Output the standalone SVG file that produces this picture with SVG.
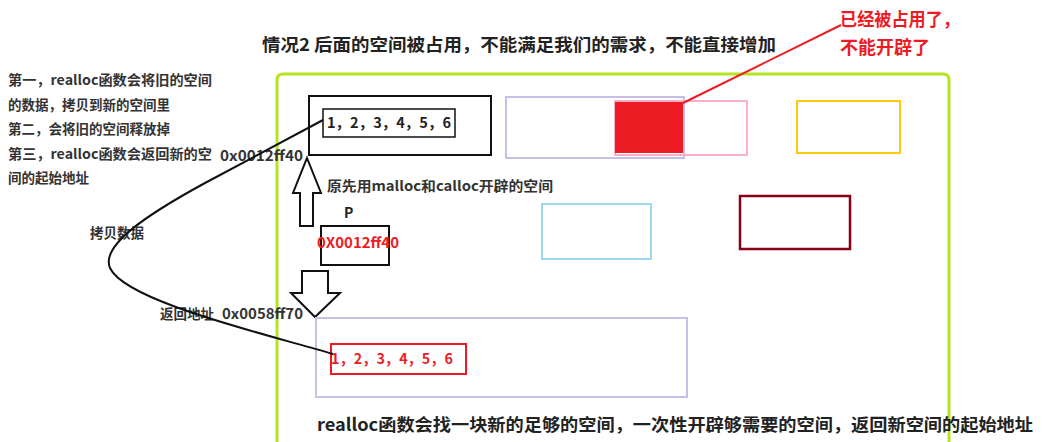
<svg xmlns="http://www.w3.org/2000/svg" width="1046" height="442" viewBox="0 0 1046 442">
  <style>
    text { font-family: "Noto Sans CJK SC", "Microsoft YaHei", sans-serif; font-weight: bold; }
    .t { fill: #333; font-size: 13.5px; }
    .title { fill: #222; font-size: 17.5px; }
    .red { fill: #ed1c24; }
    .box { fill: none; }
    .blk { stroke: #111; stroke-width: 2; }
    .arrow { fill: #fff; stroke: #111; stroke-width: 2; stroke-linejoin: miter; }
    .conn { fill: none; stroke: #111; stroke-width: 2; }
  </style>

  <rect width="1046" height="442" fill="#fff"/>

  <g id="title">
    <text class="title" x="262" y="51" textLength="514" lengthAdjust="spacingAndGlyphs">情况2 后面的空间被占用，不能满足我们的需求，不能直接增加</text>
  </g>

  <g id="note-occupied">
    <text class="red" x="840" y="26" font-size="18" textLength="120" lengthAdjust="spacingAndGlyphs">已经被占用了，</text>
    <text class="red" x="840" y="54" font-size="18">不能开辟了</text>
  </g>

  <g id="left-notes">
    <text class="t" x="8" y="85" textLength="204" lengthAdjust="spacingAndGlyphs">第一，realloc函数会将旧的空间</text>
    <text class="t" x="8" y="109.5">的数据，拷贝到新的空间里</text>
    <text class="t" x="8" y="134">第二，会将旧的空间释放掉</text>
    <text class="t" x="8" y="158.5" textLength="204" lengthAdjust="spacingAndGlyphs">第三，realloc函数会返回新的空</text>
    <text class="t" x="8" y="183">间的起始地址</text>
  </g>

  <g id="heap">
    <path d="M277 442 V80 Q277 74 283 74 H943 Q949 74 949 80 V442" fill="none" stroke="#b5e61d" stroke-width="3"/>
  </g>

  <g id="old-space">
    <rect class="box blk" x="309" y="96" width="182" height="59"/>
    <rect class="box" x="323" y="109" width="132" height="28" stroke="#111" stroke-width="1.5"/>
    <text x="327" y="128" font-size="14" fill="#222" textLength="124" lengthAdjust="spacingAndGlyphs">1，2，3，4，5，6</text>
  </g>

  <g id="old-addr">
    <text x="220" y="161" font-size="14.5" fill="#333" textLength="83" lengthAdjust="spacingAndGlyphs">0x0012ff40</text>
  </g>

  <g id="next-space">
    <rect class="box" x="506" y="97" width="178" height="61" stroke="#c8bfe7" stroke-width="2"/>
    <rect class="box" x="615" y="101" width="132" height="54" stroke="#ffaec9" stroke-width="2"/>
    <rect x="615" y="102" width="68" height="51" fill="#ed1c24"/>
  </g>

  <g id="other-blocks">
    <rect class="box" x="797" y="101" width="103" height="52" stroke="#ffc90e" stroke-width="2"/>
    <rect class="box" x="542" y="204" width="109" height="55" stroke="#99d9ea" stroke-width="2"/>
    <rect class="box" x="740" y="196" width="110" height="53" stroke="#880015" stroke-width="2.5"/>
  </g>

  <g id="up-arrow">
    <polygon class="arrow" points="307,158 321,193 313,193 313,226 300,226 300,193 293,193"/>
  </g>
  <g id="orig-label">
    <text class="t" x="327" y="191" font-size="13.5" textLength="226" lengthAdjust="spacingAndGlyphs">原先用malloc和calloc开辟的空间</text>
  </g>

  <g id="pointer-p">
    <text x="344" y="218" font-size="14" fill="#222">P</text>
    <rect class="box blk" x="321" y="226" width="68" height="39"/>
    <text class="red" x="317" y="248" font-size="14.5" textLength="82" lengthAdjust="spacingAndGlyphs">0X0012ff40</text>
  </g>

  <g id="down-arrow">
    <polygon class="arrow" points="302,271 328,271 328,293 340,293 315,317 291,293 302,293"/>
  </g>

  <g id="new-space">
    <rect class="box" x="316" y="318" width="371" height="79" stroke="#c8bfe7" stroke-width="2"/>
    <rect class="box" x="331" y="344" width="135" height="30" stroke="#ed1c24" stroke-width="2"/>
    <text class="red" x="331" y="364" font-size="14" textLength="122" lengthAdjust="spacingAndGlyphs">1，2，3，4，5，6</text>
  </g>

  <g id="new-addr">
    <text x="160" y="319" font-size="13.5" fill="#333">返回地址</text>
    <text x="222" y="319" font-size="14.5" fill="#333" textLength="81" lengthAdjust="spacingAndGlyphs">0x0058ff70</text>
  </g>

  <g id="copy-label">
    <text x="90" y="238" font-size="13.5" fill="#333">拷贝数据</text>
  </g>

  <g id="connectors">
    <path class="conn" d="M323,120 L205,183 C150,213 100,245 110,268 C125,300 250,330 333,354"/>
    <line x1="683" y1="103" x2="841" y2="25" stroke="#ed1c24" stroke-width="2"/>
  </g>

  <g id="bottom-note">
    <text class="title" x="317" y="431" textLength="716" lengthAdjust="spacingAndGlyphs">realloc函数会找一块新的足够的空间，一次性开辟够需要的空间，返回新空间的起始地址</text>
  </g>
</svg>
